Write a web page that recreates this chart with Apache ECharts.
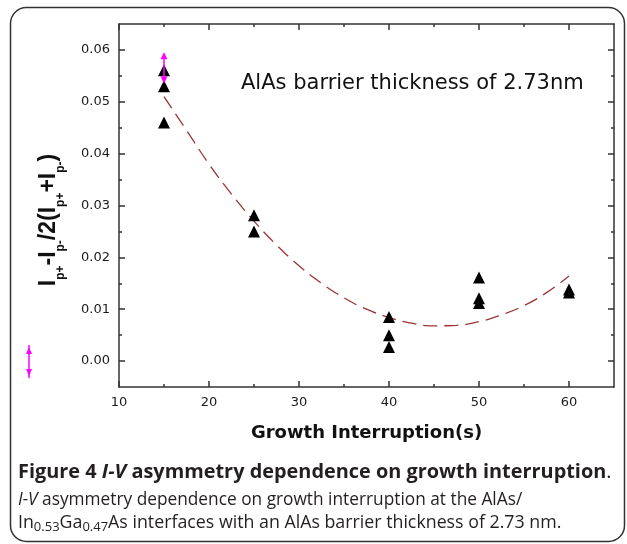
<!DOCTYPE html>
<html>
<head>
<meta charset="utf-8">
<script src="https://cdn.jsdelivr.net/npm/echarts@6/dist/echarts.min.js"></script>
<style>
  html, body { margin: 0; padding: 0; background: #fff; }
  #chart { width: 627px; height: 544px; }
</style>
</head>
<body>
<div id="chart"></div>
<script>
// measured points (growth interruption in s, asymmetry)
const growthTimes = [15, 15, 15, 25, 25, 40, 40, 40, 50, 50, 50, 60, 60];
const asymmetry = [0.0561, 0.0530, 0.0460, 0.0281, 0.0250, 0.0085, 0.0050, 0.0027, 0.0161, 0.0121, 0.0112, 0.0138, 0.0132];
// dashed fit curve
const fitTimes = [15, 17.5, 20, 22.5, 25, 27.5, 30, 32.5, 35, 37.5, 40, 42.5, 45, 47.5, 50, 52.5, 55, 57.5, 60];
const fitValues = [0.0510, 0.0445, 0.0380, 0.0322, 0.0270, 0.0224, 0.0184, 0.0150, 0.0122, 0.0100, 0.0084, 0.0073, 0.0068, 0.0069, 0.0076, 0.0089, 0.0107, 0.0132, 0.0164];
// magenta double arrow at 15 s
const arrowTimes = [15, 15];
const arrowValues = [0.0589, 0.0542];
// ticks
const xTicks = [10, 20, 30, 40, 50, 60];
const xMinorTicks = [15, 25, 35, 45, 55];
const yTicks = [0, 0.01, 0.02, 0.03, 0.04, 0.05, 0.06];
const yMinorTicks = [0.005, 0.015, 0.025, 0.035, 0.045, 0.055];

const axisColor = '#333';
const tickFont = 'DejaVu Sans';

function xAxisDef(pos, ticks, len, showLine, showLabel) {
  return {
    type: 'value', position: pos, min: 10, max: 65,
    axisLine: { show: showLine, onZero: false, lineStyle: { color: axisColor, width: 1.5 } },
    axisTick: { show: true, inside: true, length: len, customValues: ticks, lineStyle: { color: axisColor, width: 1.5 } },
    axisLabel: { show: showLabel, customValues: ticks, margin: 9, color: '#1a1a1a', fontSize: 13, fontFamily: tickFont },
    splitLine: { show: false }
  };
}
function yAxisDef(pos, ticks, len, showLine, showLabel) {
  return {
    type: 'value', position: pos, min: -0.005, max: 0.065,
    axisLine: { show: showLine, onZero: false, lineStyle: { color: axisColor, width: 1.5 } },
    axisTick: { show: true, inside: true, length: len, customValues: ticks, lineStyle: { color: axisColor, width: 1.5 } },
    axisLabel: {
      show: showLabel, customValues: ticks, margin: 9, color: '#1a1a1a', fontSize: 13, fontFamily: tickFont,
      formatter: v => v.toFixed(2)
    },
    splitLine: { show: false }
  };
}

const xAxes = [
  xAxisDef('bottom', xTicks, 6, true, true),
  xAxisDef('bottom', xMinorTicks, 3, false, false),
  xAxisDef('top', xTicks, 6, true, false),
  xAxisDef('top', xMinorTicks, 3, false, false)
];
xAxes[0].name = 'Growth Interruption(s)';
xAxes[0].nameLocation = 'middle';
xAxes[0].nameGap = 37;
xAxes[0].nameTextStyle = { fontFamily: tickFont, fontWeight: 'bold', fontSize: 18, color: '#111' };

const yAxes = [
  yAxisDef('left', yTicks, 6, true, true),
  yAxisDef('left', yMinorTicks, 3, false, false),
  yAxisDef('right', yTicks, 6, true, false),
  yAxisDef('right', yMinorTicks, 3, false, false)
];

const capColor = '#231f20';

const option = {
  animation: false,
  backgroundColor: '#fff',
  grid: { left: 119, right: 13, top: 24, bottom: 157, containLabel: false },
  xAxis: xAxes,
  yAxis: yAxes,
  series: [
    {
      type: 'line',
      data: fitTimes.map((t, i) => [t, fitValues[i]]),
      smooth: true,
      showSymbol: false,
      symbol: 'none',
      lineStyle: { color: '#9b3535', width: 1.3, type: [14, 7] },
      z: 2
    },
    {
      type: 'scatter',
      data: growthTimes.map((t, i) => [t, asymmetry[i]]),
      symbol: 'triangle',
      symbolSize: 12,
      itemStyle: { color: '#000', opacity: 1 },
      z: 3
    },
    {
      type: 'line',
      data: [
        { value: [arrowTimes[0], arrowValues[0]], symbolRotate: 0 },
        { value: [arrowTimes[1], arrowValues[1]], symbolRotate: 180 }
      ],
      symbol: 'triangle',
      symbolSize: 7,
      showSymbol: true,
      itemStyle: { color: '#ff00ff', opacity: 1 },
      lineStyle: { color: '#ff00ff', width: 1.5 },
      z: 4
    }
  ],
  graphic: [
    {
      type: 'rect',
      shape: { x: 10.5, y: 7.5, width: 614, height: 534, r: 16 },
      style: { fill: 'none', stroke: '#333', lineWidth: 1.5 },
      silent: true
    },
    {
      type: 'text',
      x: 241, y: 84,
      style: { text: 'AlAs barrier thickness of 2.73nm', font: '21px "DejaVu Sans"', fill: '#111', verticalAlign: 'middle' }
    },
    {
      type: 'text',
      x: 48.5, y: 220,
      rotation: Math.PI / 2,
      style: {
        text: '{m|I}{s|p+}{m|-I}{s|p-}{m|/2(I}{s|p+}{m|+I}{s|p-}{m|)}',
        align: 'center', verticalAlign: 'middle',
        rich: {
          m: { font: 'bold 23px "Liberation Sans"', fill: '#111', lineHeight: 36 },
          s: { font: 'bold 12px "Liberation Sans"', fill: '#111', lineHeight: 12, verticalAlign: 'bottom' }
        }
      }
    },
    // magenta marker left of the axis
    {
      type: 'group',
      children: [
        { type: 'line', shape: { x1: 29, y1: 345, x2: 29, y2: 378 }, style: { stroke: '#ff00ff', lineWidth: 1.5 } },
        { type: 'polygon', shape: { points: [[29, 347], [26, 354], [32, 354]] }, style: { fill: '#ff00ff' } },
        { type: 'polygon', shape: { points: [[29, 376], [26, 369], [32, 369]] }, style: { fill: '#ff00ff' } }
      ]
    },
    {
      type: 'text',
      x: 18, y: 472,
      style: {
        text: '{b|Figure 4 }{bi|I-V}{b| asymmetry dependence on growth interruption}{n|.}',
        verticalAlign: 'middle',
        rich: {
          b: { font: 'bold 19.9px "Open Sans"', fill: capColor },
          bi: { font: 'italic bold 19.9px "Open Sans"', fill: capColor },
          n: { font: '19.9px "Open Sans"', fill: capColor }
        }
      }
    },
    {
      type: 'text',
      x: 18, y: 500,
      style: {
        text: '{i|I-V}{n| asymmetry dependence on growth interruption at the AlAs/}',
        verticalAlign: 'middle',
        rich: {
          i: { font: 'italic 17.3px "Open Sans"', fill: capColor },
          n: { font: '17.3px "Open Sans"', fill: capColor }
        }
      }
    },
    {
      type: 'text',
      x: 18, y: 523,
      style: {
        text: '{n|In}{s|0.53}{n|Ga}{s|0.47}{n|As interfaces with an AlAs barrier thickness of 2.73 nm.}',
        verticalAlign: 'middle',
        rich: {
          n: { font: '17.8px "Open Sans"', fill: capColor, lineHeight: 21 },
          s: { font: '13px "Open Sans"', fill: capColor, lineHeight: 11, verticalAlign: 'bottom' }
        }
      }
    }
  ]
};

const myChart = echarts.init(document.getElementById('chart'));
myChart.setOption(option);
</script>
</body>
</html>
